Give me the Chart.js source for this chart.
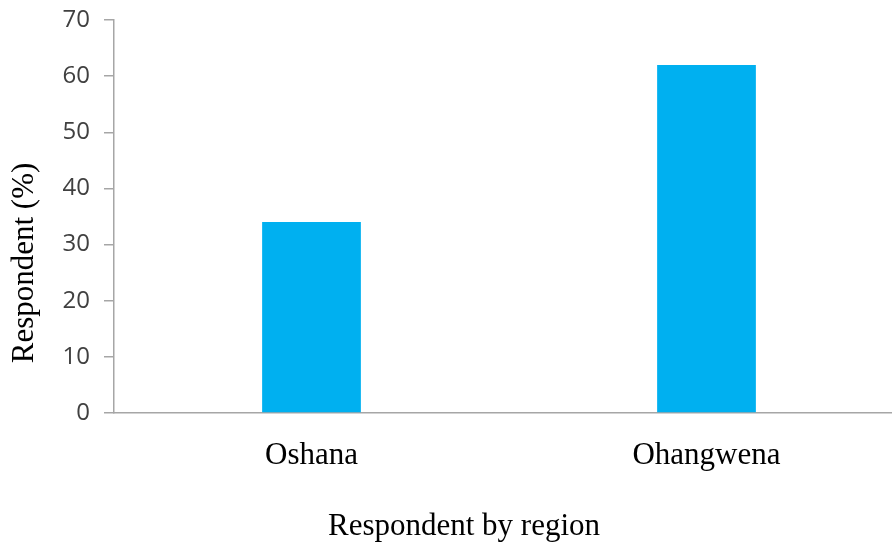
<!DOCTYPE html>
<html>

<head>
    <script src="https://cdn.jsdelivr.net/npm/chart.js"></script>
    <title>Respondent by region</title>
    <style>
        html, body { margin: 0; padding: 0; background: #fff; overflow: hidden; }
        #wrap { width: 904px; height: 545px; }
    </style>
</head>

<body>
    <div id="wrap"><canvas id="regionChart"></canvas></div>

    <script>
        const regions = ['Oshana', 'Ohangwena'];
        const respondentPct = [34, 62];
        const yTicks = [0, 10, 20, 30, 40, 50, 60, 70];
        const xTitle = 'Respondent by region';
        const yTitle = 'Respondent (%)';

        const axisGrey = '#a6a6a6';
        const serif = "'Liberation Serif', 'Times New Roman', serif";
        const sans = "'Open Sans', 'Liberation Sans', sans-serif";
        const titleFont = '31px ' + serif;

        // axis titles sit off-centre, so they are drawn here rather than by the scales
        const axisTitles = {
            id: 'axisTitles',
            afterDraw(chart) {
                const { ctx, chartArea } = chart;
                ctx.save();
                ctx.fillStyle = '#000';
                ctx.font = titleFont;
                ctx.textAlign = 'center';
                ctx.textBaseline = 'alphabetic';
                ctx.fillText(xTitle, chartArea.left + 350, chartArea.bottom + 122);
                ctx.translate(33, chartArea.bottom - 150);
                ctx.rotate(-Math.PI / 2);
                ctx.fillText(yTitle, 0, 0);
                ctx.restore();
            }
        };

        new Chart(document.getElementById('regionChart'), {
            type: 'bar',
            data: {
                labels: regions,
                datasets: [{
                    data: respondentPct,
                    backgroundColor: '#00b0f0',
                    borderWidth: 0,
                    barPercentage: 0.25,
                    categoryPercentage: 1.0
                }]
            },
            options: {
                responsive: true,
                maintainAspectRatio: false,
                animation: false,
                layout: { padding: { top: 20, left: 0, right: 0, bottom: 0 } },
                plugins: {
                    legend: { display: false },
                    tooltip: { enabled: false }
                },
                scales: {
                    x: {
                        afterFit: axis => { axis.height = 132; },
                        grid: { display: false, drawTicks: false },
                        border: { display: true, color: axisGrey, width: 1.5 },
                        ticks: {
                            color: '#000',
                            padding: 24,
                            font: { family: serif, size: 31 }
                        }
                    },
                    y: {
                        min: 0,
                        max: 70,
                        afterBuildTicks: axis => {
                            axis.ticks = yTicks.map(v => ({ value: v }));
                        },
                        afterFit: axis => {
                            axis.width = 114;
                            axis.paddingTop = 0;
                            axis.paddingBottom = 0;
                        },
                        grid: {
                            drawOnChartArea: false,
                            drawTicks: true,
                            tickLength: 10,
                            color: axisGrey,
                            lineWidth: 1.5
                        },
                        border: { display: true, color: axisGrey, width: 1.5 },
                        ticks: {
                            color: '#404040',
                            padding: 14,
                            font: { family: sans, size: 24 }
                        }
                    }
                }
            },
            plugins: [axisTitles]
        });
    </script>
</body>

</html>
